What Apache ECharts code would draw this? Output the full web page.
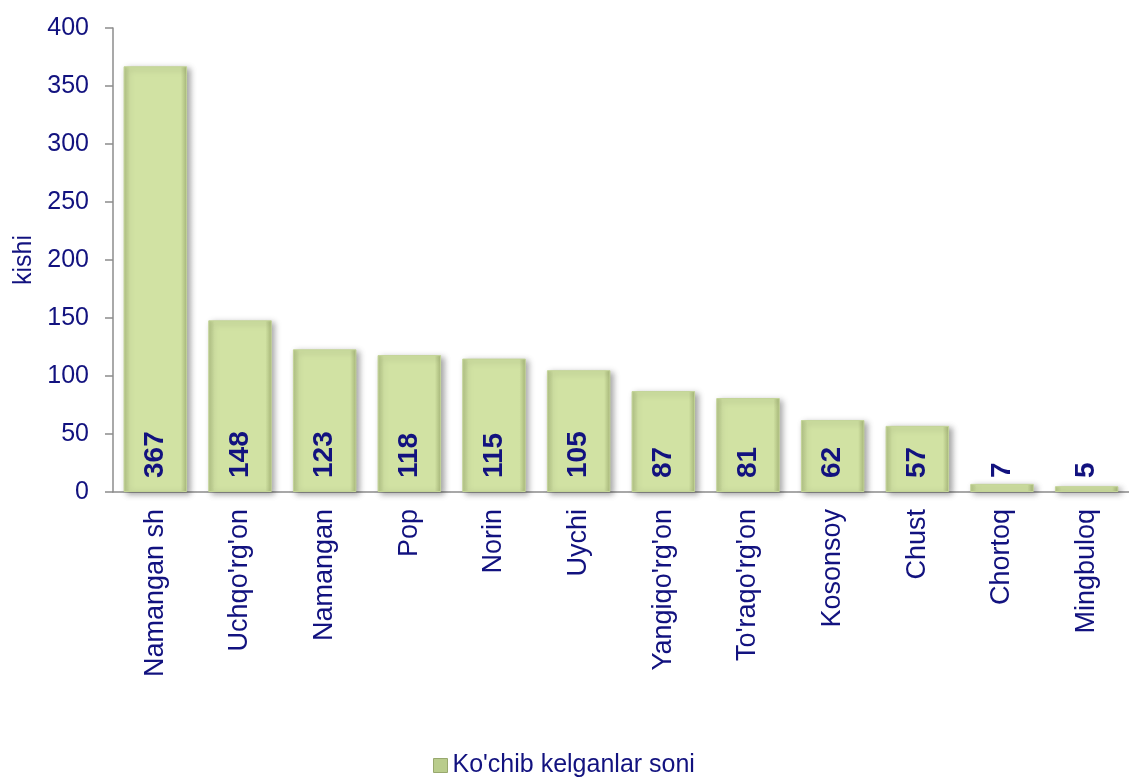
<!DOCTYPE html>
<html>
<head>
<meta charset="utf-8">
<script src="https://cdn.jsdelivr.net/npm/echarts@6/dist/echarts.min.js"></script>
<style>
  html, body { margin: 0; padding: 0; background: #fff; }
  #chart { width: 1129px; height: 778px; }
</style>
</head>
<body>
<div id="chart"></div>
<script>
const districts = ['Namangan sh', "Uchqo'rg'on", 'Namangan', 'Pop', 'Norin', 'Uychi',
  "Yangiqo'rg'on", "To'raqo'rg'on", 'Kosonsoy', 'Chust', 'Chortoq', 'Mingbuloq'];
const migrants = [367, 148, 123, 118, 115, 105, 87, 81, 62, 57, 7, 5];
const seriesName = "Ko'chib kelganlar soni";
const yTitle = 'kishi';

const navy = '#12127f';
const font = '"Liberation Sans", Arial, sans-serif';

// side shading to mimic the bevelled Excel bars
const barFill = new echarts.graphic.LinearGradient(0, 0, 1, 0, [
  { offset: 0, color: '#b2c385' },
  { offset: 0.1, color: '#d1e2a3' },
  { offset: 0.9, color: '#d1e2a3' },
  { offset: 1, color: '#a8b87a' }
]);

const chart = echarts.init(document.getElementById('chart'));
chart.setOption({
  backgroundColor: '#fff',
  animation: false,
  textStyle: { fontFamily: font },
  grid: { left: 113, right: -12, top: 28, bottom: 286 },
  legend: {
    data: [seriesName],
    left: 428,
    top: 748,
    icon: 'rect',
    itemWidth: 14,
    itemHeight: 14,
    itemStyle: { color: '#b9cc8c', borderColor: '#98a86e', borderWidth: 1, shadowBlur: 0, shadowOffsetX: 0, shadowOffsetY: 0 },
    textStyle: { color: navy, fontSize: 25, fontFamily: font }
  },
  xAxis: {
    type: 'category',
    data: districts,
    axisLine: { lineStyle: { color: '#8c8c8c', width: 1.5 } },
    axisTick: { length: 8, lineStyle: { color: '#8c8c8c', width: 1.5 } },
    axisLabel: { rotate: 90, color: navy, fontSize: 27, margin: 17, interval: 0 }
  },
  yAxis: {
    type: 'value',
    min: 0,
    max: 400,
    interval: 50,
    name: yTitle,
    nameLocation: 'middle',
    nameRotate: 90,
    nameGap: 73,
    nameTextStyle: { color: navy, fontSize: 25 },
    splitLine: { show: false },
    axisLine: { show: true, lineStyle: { color: '#8c8c8c', width: 1.5 } },
    axisTick: { show: true, length: 8, lineStyle: { color: '#8c8c8c', width: 1.5 } },
    axisLabel: { color: navy, fontSize: 25, margin: 24 }
  },
  series: [{
    name: seriesName,
    type: 'bar',
    data: migrants,
    barCategoryGap: '25%',
    itemStyle: {
      color: barFill,
      borderColor: '#c3d497',
      borderWidth: 1,
      shadowColor: 'rgba(0,0,0,0.35)',
      shadowBlur: 6,
      shadowOffsetX: 3,
      shadowOffsetY: 2
    },
    label: {
      show: true,
      position: 'insideBottom',
      distance: 14,
      rotate: 90,
      align: 'left',
      verticalAlign: 'middle',
      color: navy,
      fontSize: 28,
      fontWeight: 'bold'
    }
  }]
});
</script>
</body>
</html>
